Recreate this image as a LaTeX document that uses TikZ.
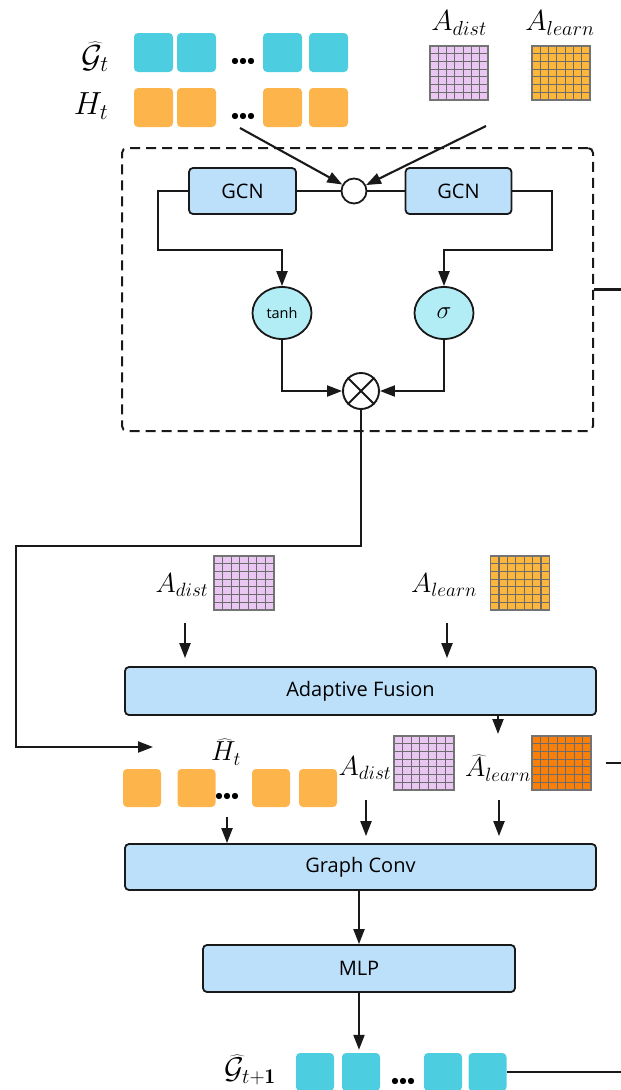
\RequirePackage{fix-cm}
\documentclass[tikz,border=0pt]{standalone}
\usepackage{fontspec}
\newfontfamily\boxfont{Open Sans}
\usetikzlibrary{arrows.meta,calc,shapes.geometric}

\definecolor{cyanbox}{RGB}{77,206,224}
\definecolor{orangebox}{RGB}{253,180,75}
\definecolor{pinkm}{RGB}{234,198,242}
\definecolor{orangem}{RGB}{253,182,60}
\definecolor{darkorangem}{RGB}{247,127,10}
\definecolor{boxblue}{RGB}{189,224,250}
\definecolor{ellfill}{RGB}{178,236,245}
\definecolor{ink}{RGB}{25,25,25}

\tikzset{
  conn/.style={line width=2.1pt, draw=ink},
  arr/.style={conn, -{Triangle[length=15pt,width=11pt]}},
  lbl/.style={inner sep=0pt, font=\fontsize{27.5}{32}\selectfont},
  biglbl/.style={inner sep=0pt, font=\fontsize{30}{34}\selectfont},
  dotsnode/.style={inner sep=0pt, font=\fontsize{16}{16}\selectfont},
  blk/.style={draw=ink, line width=1.8pt, rounded corners=4pt, fill=boxblue,
    inner sep=0pt, font=\boxfont\fontsize{20}{24}\selectfont},
  csq/.style={fill=cyanbox, rounded corners=4pt, minimum size=39pt, inner sep=0pt},
  osq/.style={fill=orangebox, rounded corners=4pt, minimum size=39pt, inner sep=0pt},
  act/.style={ellipse, draw=ink, line width=1.8pt, fill=ellfill, inner sep=0pt,
    minimum width=59pt, minimum height=52pt},
  dbox/.style={draw=ink, line width=2pt, dash pattern=on 10pt off 6pt,
    rounded corners=5pt, inner sep=0pt},
  mat/.style={minimum width=58pt, minimum height=54pt, inner sep=0pt, fill=#1,
    draw=black!55, line width=1.1pt,
    path picture={
      \foreach \k in {1,...,6}{
        \draw[black!58, line width=1.2pt]
          ($(path picture bounding box.north west)!\k/7!(path picture bounding box.north east)$) --
          ($(path picture bounding box.south west)!\k/7!(path picture bounding box.south east)$);
        \draw[black!58, line width=1.2pt]
          ($(path picture bounding box.north west)!\k/7!(path picture bounding box.south west)$) --
          ($(path picture bounding box.north east)!\k/7!(path picture bounding box.south east)$);
      }
    }},
}
\newcommand{\tridots}{$\mathord{\bullet}\mathord{\bullet}\mathord{\bullet}$}

\begin{document}
\begin{tikzpicture}[x=1pt,y=-1pt]
\useasboundingbox (0,0) rectangle (621,1090);

% ---------- inputs ----------
\node[biglbl, font=\fontsize{32}{36}\selectfont] (gt) at (95,57) {$\widehat{\mathcal{G}}_t$};
\node[biglbl, font=\fontsize{32}{36}\selectfont] (ht) at (91,106) {$H_t$};
\node[csq] (g1) at (153.5,52.5) {};
\node[csq] (g2) at (196.5,52.5) {};
\node[csq] (g3) at (282.5,52.5) {};
\node[csq] (g4) at (328.5,52.5) {};
\node[dotsnode] (gdots) at (243,62) {\tridots};
\node[osq] (h1) at (153.5,107.5) {};
\node[osq] (h2) at (196.5,107.5) {};
\node[osq] (h3) at (282.5,107.5) {};
\node[osq] (h4) at (328.5,107.5) {};
\node[dotsnode] (hdots) at (243,117) {\tridots};

\node[lbl, font=\fontsize{29}{33}\selectfont] (adl1) at (459,23) {$A_{dist}$};
\node[lbl, font=\fontsize{29}{33}\selectfont] (all1) at (560,23) {$A_{learn}$};
\node[mat=pinkm] (adm1) at (459,73) {};
\node[mat=orangem] (alm1) at (561,73) {};

% ---------- gated GCN block ----------
\node[dbox, minimum width=471pt, minimum height=283pt] (gate) at (357.5,289.5) {};
\node[circle, draw=ink, line width=1.8pt, fill=white, minimum size=25pt, inner sep=0pt] (junc) at (354,191) {};
\node[blk, minimum width=107pt, minimum height=46pt] (gcnl) at (242.5,191) {GCN};
\node[blk, minimum width=106pt, minimum height=46pt] (gcnr) at (458.5,191) {GCN};
\node[act, font=\boxfont\fontsize{14.5}{16}\selectfont] (tanh) at (282,313) {tanh};
\node[act, font=\fontsize{25}{28}\selectfont] (sig) at (444,313) {$\sigma$};
\node[circle, draw=ink, line width=1.9pt, fill=white, minimum size=36pt, inner sep=0pt] (prod) at (361,391) {};
\draw[conn] (prod.north west) -- (prod.south east) (prod.north east) -- (prod.south west);

\coordinate (hsrc) at (240,128);
\coordinate (asrc) at (486,126);
\draw[arr] (hsrc) -- (junc);
\draw[arr] (asrc) -- (junc);
\draw[conn] (gcnl.east) -- (junc.west);
\draw[conn] (junc.east) -- (gcnr.west);
\draw[arr] (gcnl.west) -| (158,250) -| (tanh.north);
\draw[arr] (gcnr.east) -| (552,250) -| (sig.north);
\draw[arr] (tanh.south) |- (prod.west);
\draw[arr] (sig.south) |- (prod.east);
\draw[conn] (gate.east) -- (621,289.5);

% ---------- feedback path into the fusion stage ----------
\coordinate (hin) at (153,747);
\draw[arr] (prod.south) |- (16,546) -- (16,747) -- (hin);

% ---------- adaptive fusion ----------
\node[lbl] (adl2) at (182,585) {$A_{dist}$};
\node[mat=pinkm, minimum width=60pt] (adm2) at (244,583) {};
\node[lbl] (all2) at (444,585) {$A_{learn}$};
\node[mat=orangem, minimum width=59pt] (alm2) at (520,583) {};
\node[blk, minimum width=471pt, minimum height=48pt] (fuse) at (360.5,691) {Adaptive Fusion};
\coordinate (f1) at (185,623);
\coordinate (f2) at (447,623);
\draw[arr, shorten >=8pt] (f1) -- (f1 |- fuse.north);
\draw[arr, shorten >=8pt] (f2) -- (f2 |- fuse.north);

% ---------- graph convolution inputs ----------
\node[lbl] (hhat) at (226,752) {$\widehat{H}_t$};
\node[osq, minimum size=38pt] (p1) at (142,788) {};
\node[osq, minimum size=38pt] (p2) at (196.5,788) {};
\node[osq, minimum size=38pt] (p3) at (271,788) {};
\node[osq, minimum size=38pt] (p4) at (318,788) {};
\node[dotsnode] (pdots) at (227,797) {\tridots};
\node[lbl] (adl3) at (365,768) {$A_{dist}$};
\node[mat=pinkm, minimum width=60pt] (adm3) at (424,763) {};
\node[lbl] (ahl) at (498,768) {$\widehat{A}_{learn}$};
\node[mat=darkorangem, minimum width=59pt] (ahm) at (561.5,763) {};
\coordinate (ahtop) at (498,734);
\draw[arr] (fuse.south -| ahtop) -- (ahtop);
\draw[conn] ($(ahm.east)+(14,0)$) -- (621,763);

\node[blk, minimum width=471pt, minimum height=46pt] (gconv) at (360.5,867) {Graph Conv};
\coordinate (c1) at (227,817);
\coordinate (c2) at (366,800);
\coordinate (c3) at (499,800);
\draw[arr] (c1) -- (c1 |- gconv.north);
\draw[arr, shorten >=7pt] (c2) -- (c2 |- gconv.north);
\draw[arr, shorten >=7pt] (c3) -- (c3 |- gconv.north);

% ---------- output head ----------
\node[blk, minimum width=312pt, minimum height=47pt] (mlp) at (359,968.5) {MLP};
\draw[arr] (gconv.south -| mlp.north) -- (mlp.north);

\node[biglbl] (gt1) at (250,1070) {$\widehat{\mathcal{G}}_{t\mathbf{+1}}$};
\node[csq, minimum size=38pt] (b1) at (315,1072) {};
\node[csq, minimum size=38pt] (b2) at (361,1072) {};
\node[csq, minimum size=38pt] (b3) at (443,1072) {};
\node[csq, minimum size=38pt] (b4) at (487.5,1072) {};
\node[dotsnode] (bdots) at (403,1082) {\tridots};
\draw[arr, shorten >=3pt] (mlp.south) -- (mlp.south |- b2.north);
\draw[conn] (b4.east) -- (621,1072);
\end{tikzpicture}
\end{document}
